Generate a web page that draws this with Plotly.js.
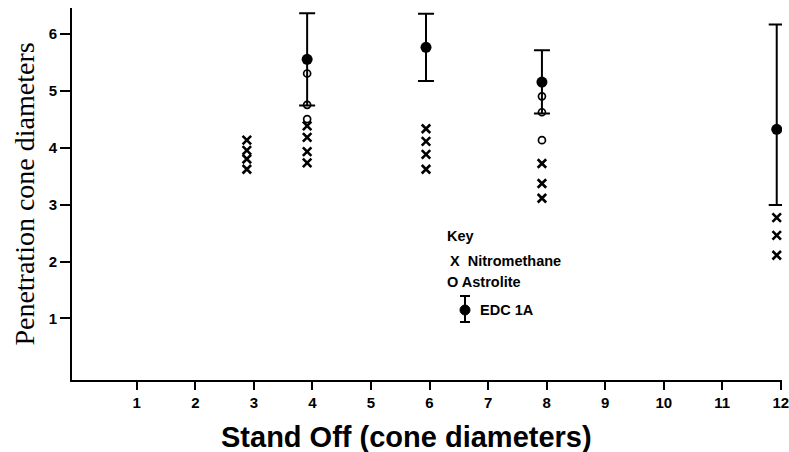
<!DOCTYPE html>
<html><head><meta charset="utf-8">
<script src="https://cdn.plot.ly/plotly-3.0.1.min.js"></script>
<style>html,body{margin:0;padding:0;background:#fff}#c{width:789px;height:452px}</style>
</head><body><div id="c"></div>
<script>
// Data
const nitroX = [2.88, 2.88, 2.88, 2.88, 3.91, 3.91, 3.91, 3.91, 5.94, 5.94, 5.94, 5.94, 7.92, 7.92, 7.92, 11.93, 11.93, 11.93];
const nitroY = [4.13, 3.95, 3.80, 3.62, 4.38, 4.18, 3.93, 3.73, 4.33, 4.11, 3.88, 3.62, 3.72, 3.37, 3.11, 2.77, 2.46, 2.11];
const astroX = [3.91, 3.91, 3.91, 7.92, 7.92, 7.92];
const astroY = [5.30, 4.75, 4.50, 4.90, 4.62, 4.13];
const edcX = [3.91, 5.94, 7.92, 11.93];
const edcY = [5.55, 5.76, 5.15, 4.32];
const edcPlus = [0.81, 0.59, 0.56, 1.84];
const edcMinus = [0.81, 0.59, 0.55, 1.33];
const xTicks = [1,2,3,4,5,6,7,8,9,10,11,12];
const yTicks = [1,2,3,4,5,6];

const L = 72, R = 782, T = 8, B = 380;
const px = x => (x - L) / (R - L);
const py = y => (B - y) / (B - T);

const traces = [
  {x: nitroX, y: nitroY, mode: 'markers', type: 'scatter', name: 'Nitromethane',
   marker: {symbol: 'x-thin-open', size: 8.5, color: '#000', line: {width: 2.6, color: '#000'}}},
  {x: astroX, y: astroY, mode: 'markers', type: 'scatter', name: 'Astrolite',
   marker: {symbol: 'circle-open', size: 7, color: '#000', line: {width: 1.7, color: '#000'}}},
  {x: edcX, y: edcY, mode: 'markers', type: 'scatter', name: 'EDC 1A',
   marker: {symbol: 'circle', size: 11, color: '#000'},
   error_y: {type: 'data', symmetric: false, array: edcPlus, arrayminus: edcMinus,
             color: '#000', thickness: 2, width: 8}}
];

const font = {family: 'Liberation Sans, Arial, sans-serif', color: '#000'};
const annotations = [
  {text: '<b>Key</b>', x: px(445), y: py(236), xanchor: 'left', yanchor: 'middle', font: {...font, size: 14.5}},
  {text: '<b>X  Nitromethane</b>', x: px(448), y: py(261), xanchor: 'left', yanchor: 'middle', font: {...font, size: 14.5}},
  {text: '<b>O Astrolite</b>', x: px(445), y: py(282), xanchor: 'left', yanchor: 'middle', font: {...font, size: 14.5}},
  {text: '<b>EDC 1A</b>', x: px(478), y: py(310), xanchor: 'left', yanchor: 'middle', font: {...font, size: 14.5}},
  {text: '<b>Stand Off (cone diameters)</b>', x: px(406), y: py(437), xanchor: 'center', yanchor: 'middle', font: {...font, size: 29}}
].map(a => Object.assign({xref: 'paper', yref: 'paper', showarrow: false}, a));

const shapes = [
  {type: 'line', x0: px(465), x1: px(465), y0: py(296), y1: py(322), line: {color: '#000', width: 2}},
  {type: 'line', x0: px(460), x1: px(470), y0: py(296), y1: py(296), line: {color: '#000', width: 2}},
  {type: 'line', x0: px(460), x1: px(470), y0: py(322), y1: py(322), line: {color: '#000', width: 2}},
  {type: 'circle', x0: px(460), x1: px(470), y0: py(305), y1: py(315), fillcolor: '#000', line: {color: '#000', width: 1}}
].map(s => Object.assign({xref: 'paper', yref: 'paper'}, s));

const layout = {
  width: 789, height: 452,
  margin: {l: L, r: 789 - R, t: T, b: 452 - B},
  paper_bgcolor: '#fff', plot_bgcolor: '#fff',
  showlegend: false,
  xaxis: {range: [-0.106, 12.02], tickvals: xTicks, ticktext: xTicks.map(v => '<b>' + v + '</b>'),
          showgrid: false, zeroline: false, showline: true, linecolor: '#000', linewidth: 2,
          ticks: 'outside', ticklen: 8, tickwidth: 2, tickcolor: '#000',
          tickfont: {...font, size: 15}, ticklabeloverflow: 'allow', automargin: false},
  yaxis: {range: [-0.08, 6.45], tickvals: yTicks, ticktext: yTicks.map(v => '<b>' + v + '</b>'),
          showgrid: false, zeroline: false, showline: true, linecolor: '#000', linewidth: 2,
          ticks: 'outside', ticklen: 10, tickwidth: 2, tickcolor: '#000',
          tickfont: {...font, size: 15}, automargin: false,
          title: {text: 'Penetration cone diameters', font: {family: 'Liberation Serif, Times New Roman, serif', size: 28, color: '#000'}, standoff: 6}},
  annotations: annotations,
  shapes: shapes
};

Plotly.newPlot('c', traces, layout, {displayModeBar: false, staticPlot: true});
</script></body></html>
